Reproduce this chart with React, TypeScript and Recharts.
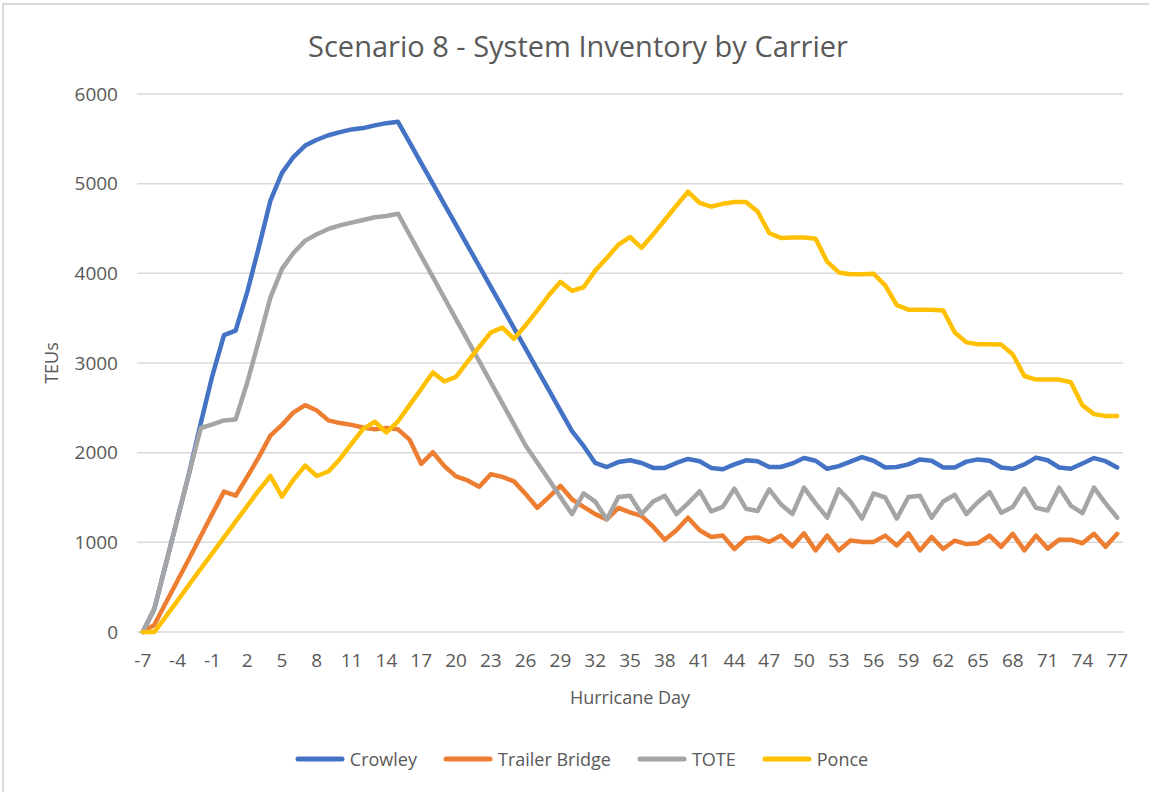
import { LineChart, Line, XAxis, YAxis, CartesianGrid, Legend } from 'recharts';

// Hurricane day categories (-7 .. 77)
const days = [
  -7, -6, -5, -4, -3, -2, -1, 0, 1, 2,
  3, 4, 5, 6, 7, 8, 9, 10, 11, 12,
  13, 14, 15, 16, 17, 18, 19, 20, 21, 22,
  23, 24, 25, 26, 27, 28, 29, 30, 31, 32,
  33, 34, 35, 36, 37, 38, 39, 40, 41, 42,
  43, 44, 45, 46, 47, 48, 49, 50, 51, 52,
  53, 54, 55, 56, 57, 58, 59, 60, 61, 62,
  63, 64, 65, 66, 67, 68, 69, 70, 71, 72,
  73, 74, 75, 76, 77,
];

const crowley = [
  0, 260, 765, 1270, 1775, 2330, 2860, 3310, 3360, 3790,
  4290, 4810, 5120, 5300, 5425, 5490, 5540, 5575, 5605, 5620,
  5650, 5675, 5690, 5460, 5230, 5000, 4770, 4540, 4310, 4080,
  3850, 3620, 3390, 3160, 2930, 2700, 2470, 2240, 2075, 1885,
  1840, 1895, 1915, 1885, 1830, 1830, 1885, 1930, 1905, 1830,
  1815, 1870, 1915, 1905, 1840, 1840, 1880, 1940, 1910, 1820,
  1850, 1900, 1950, 1910, 1835, 1840, 1870, 1925, 1910, 1835,
  1835, 1900, 1925, 1910, 1835, 1820, 1870, 1945, 1915, 1835,
  1820, 1880, 1940, 1905, 1835,
];

const trailerBridge = [
  0, 80, 330, 575, 820, 1070, 1320, 1565, 1520, 1730,
  1950, 2190, 2310, 2450, 2530, 2470, 2360, 2330, 2310, 2280,
  2260, 2275, 2260, 2145, 1875, 2005, 1850, 1735, 1690, 1620,
  1760, 1730, 1680, 1540, 1385, 1505, 1630, 1480, 1395, 1315,
  1255, 1385, 1335, 1295, 1175, 1030, 1135, 1275, 1135, 1060,
  1075, 925, 1045, 1055, 1005, 1075, 955, 1100, 910, 1075,
  910, 1020, 1005, 1005, 1075, 965, 1100, 910, 1060, 925,
  1020, 980, 990, 1075, 950, 1095, 910, 1075, 930, 1030,
  1030, 990, 1095, 950, 1095,
];

const tote = [
  0, 265, 765, 1270, 1775, 2275, 2315, 2360, 2370, 2780,
  3250, 3730, 4050, 4230, 4365, 4435, 4495, 4535, 4565, 4595,
  4625, 4640, 4665, 4430, 4195, 3960, 3725, 3490, 3255, 3020,
  2785, 2550, 2315, 2080, 1890, 1700, 1505, 1315, 1545, 1455,
  1255, 1505, 1520, 1315, 1455, 1520, 1315, 1435, 1570, 1345,
  1395, 1600, 1375, 1350, 1590, 1425, 1315, 1610, 1435, 1275,
  1590, 1455, 1265, 1545, 1500, 1265, 1505, 1520, 1275, 1455,
  1530, 1315, 1450, 1560, 1330, 1395, 1600, 1385, 1355, 1610,
  1410, 1325, 1610, 1435, 1275,
];

const ponce = [
  0, 0, 175, 350, 530, 705, 880, 1055, 1230, 1405,
  1580, 1740, 1510, 1700, 1855, 1740, 1790, 1930, 2100, 2265,
  2345, 2225, 2350, 2530, 2710, 2895, 2795, 2845, 3015, 3180,
  3340, 3395, 3270, 3420, 3585, 3755, 3905, 3805, 3845, 4030,
  4170, 4320, 4405, 4285, 4435, 4595, 4755, 4910, 4785, 4745,
  4775, 4795, 4795, 4690, 4450, 4395, 4400, 4400, 4385, 4130,
  4010, 3990, 3990, 3995, 3865, 3645, 3595, 3595, 3595, 3585,
  3340, 3230, 3210, 3210, 3205, 3095, 2855, 2815, 2815, 2815,
  2785, 2530, 2430, 2410, 2410,
];

const xTicks = [-7, -4, -1, 2, 5, 8, 11, 14, 17, 20, 23, 26, 29, 32, 35, 38, 41, 44, 47, 50, 53, 56, 59, 62, 65, 68, 71, 74, 77];
const yTicks = [0, 1000, 2000, 3000, 4000, 5000, 6000];

const series = [
  { key: 'crowley', name: 'Crowley', color: '#4472C4' },
  { key: 'trailerBridge', name: 'Trailer Bridge', color: '#ED7D31' },
  { key: 'tote', name: 'TOTE', color: '#A5A5A5' },
  { key: 'ponce', name: 'Ponce', color: '#FFC000' },
];

const data = days.map((day, i) => ({
  day,
  crowley: crowley[i],
  trailerBridge: trailerBridge[i],
  tote: tote[i],
  ponce: ponce[i],
}));

const textColor = '#595959';
const font = "'Open Sans', sans-serif";

// legend in series order (recharts sorts the payload by name otherwise)
function renderLegend() {
  return (
    <div
      style={{
        display: 'flex',
        justifyContent: 'center',
        alignItems: 'center',
        height: 26,
        paddingLeft: 14,
        fontFamily: font,
        fontSize: 18,
        color: textColor,
      }}
    >
      {series.map((s, i) => (
        <div key={s.key} style={{ display: 'flex', alignItems: 'center', marginRight: i < series.length - 1 ? 26 : 0 }}>
          <svg width={50} height={8}>
            <line x1={3} y1={4} x2={47} y2={4} stroke={s.color} strokeWidth={5} strokeLinecap="round" />
          </svg>
          <span style={{ marginLeft: 5 }}>{s.name}</span>
        </div>
      ))}
    </div>
  );
}

export default function App() {
  return (
    <div style={{ position: 'absolute', left: 0, top: 0, width: 1149, height: 792, background: '#fff', overflow: 'hidden' }}>
      {/* chart frame */}
      <div style={{ position: 'absolute', left: 2, top: 3, width: 1160, height: 800, borderTop: '2px solid #d9d9d9', borderLeft: '2px solid #d9d9d9' }} />

      <div
        style={{
          position: 'absolute',
          top: 31,
          left: 0,
          width: 1149,
          paddingLeft: 7,
          boxSizing: 'border-box',
          textAlign: 'center',
          fontFamily: font,
          fontSize: 29,
          lineHeight: '29px',
          color: textColor,
          zIndex: 1,
        }}
      >
        Scenario 8 - System Inventory by Carrier
      </div>

      <LineChart width={1149} height={792} data={data} margin={{ top: 94, right: 26, bottom: 20, left: 0 }}>
        <CartesianGrid vertical={false} stroke="#d9d9d9" strokeWidth={1.5} />
        <XAxis
          dataKey="day"
          type="number"
          domain={[-7.5, 77.5]}
          ticks={xTicks}
          interval={0}
          axisLine={false}
          tickLine={false}
          tickSize={0}
          tickMargin={22}
          height={114}
          tick={{ fill: textColor, fontSize: 19, fontFamily: font }}
          label={{ value: 'Hurricane Day', position: 'insideTop', offset: 59, fill: textColor, fontSize: 18, fontFamily: font }}
        />
        <YAxis
          type="number"
          domain={[0, 6000]}
          ticks={yTicks}
          axisLine={false}
          tickLine={false}
          tickSize={0}
          tickMargin={19}
          width={137}
          tick={{ fill: textColor, fontSize: 19, fontFamily: font }}
          label={{
            value: 'TEUs',
            angle: -90,
            position: 'insideLeft',
            offset: 52,
            fill: textColor,
            fontSize: 18,
            fontFamily: font,
            style: { textAnchor: 'middle' },
          }}
        />
        <Legend verticalAlign="bottom" content={renderLegend} wrapperStyle={{ left: 0, width: 1149 }} />
        {series.map((s) => (
          <Line
            key={s.key}
            type="linear"
            dataKey={s.key}
            name={s.name}
            stroke={s.color}
            strokeWidth={4.5}
            strokeLinejoin="round"
            strokeLinecap="round"
            dot={false}
            activeDot={false}
            isAnimationActive={false}
          />
        ))}
      </LineChart>
    </div>
  );
}
